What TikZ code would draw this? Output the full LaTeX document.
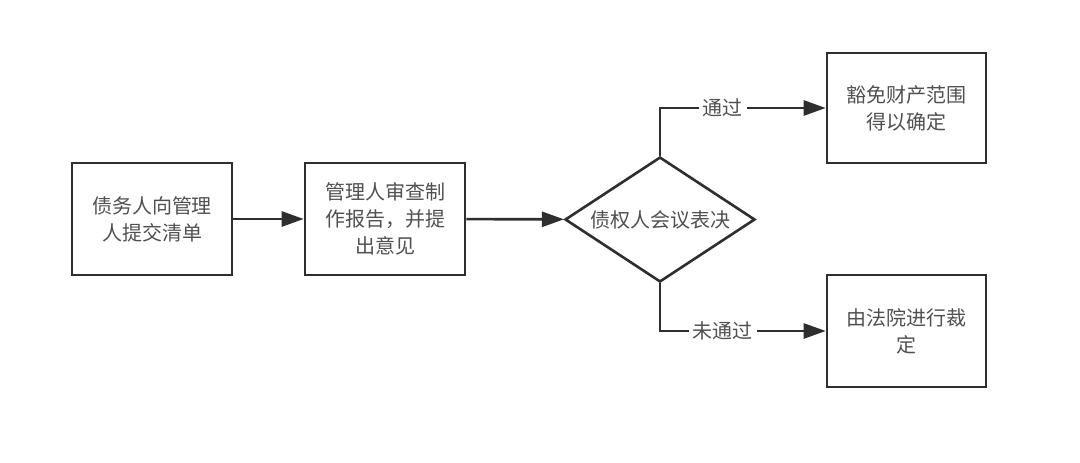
\documentclass[tikz,border=0pt]{standalone}
\usepackage{fontspec}
\newfontfamily\cjk{Noto Sans CJK SC}
\usetikzlibrary{shapes.geometric,arrows.meta}
\definecolor{txt}{HTML}{505050}
\definecolor{ln}{HTML}{2E2E2E}
\begin{document}
\begin{tikzpicture}[x=1pt,y=-1pt,
  every node/.style={font=\cjk\fontsize{20}{27}\selectfont, text=txt},
  box/.style={draw=ln, line width=2.6pt, rectangle, inner sep=0pt, align=center, minimum width=160pt, minimum height=112pt},
  dia/.style={draw=ln, line width=2.6pt, diamond, aspect=1.52, inner sep=0pt, minimum width=190pt, minimum height=125pt},
  conn/.style={draw=ln, line width=2.6pt, -{Triangle[length=22pt,width=15pt]}},
  lbl/.style={fill=white, inner sep=4pt}]
\useasboundingbox (0,0) rectangle (1080,463);
\fill[white] (0,0) rectangle (1080,463);
\node[box] (a) at (152,219) {债务人向管理\\人提交清单};
\node[box] (b) at (385,219) {管理人审查制\\作报告，并提\\出意见};
\node[dia] (d) at (660,219.5) {债权人会议表决};
\node[box, minimum height=110pt, minimum width=159pt] (c) at (906.5,108) {豁免财产范围\\得以确定};
\node[box, minimum width=159pt] (e) at (906.5,331) {由法院进行裁\\定};
\draw[conn] (a) -- (b);
\draw[conn] (b) -- (d);
\draw[conn] (d.north) |- node[lbl, pos=0.69] {通过} (c.west);
\draw[conn] (d.south) |- node[lbl, pos=0.69] {未通过} (e.west);
\end{tikzpicture}
\end{document}
